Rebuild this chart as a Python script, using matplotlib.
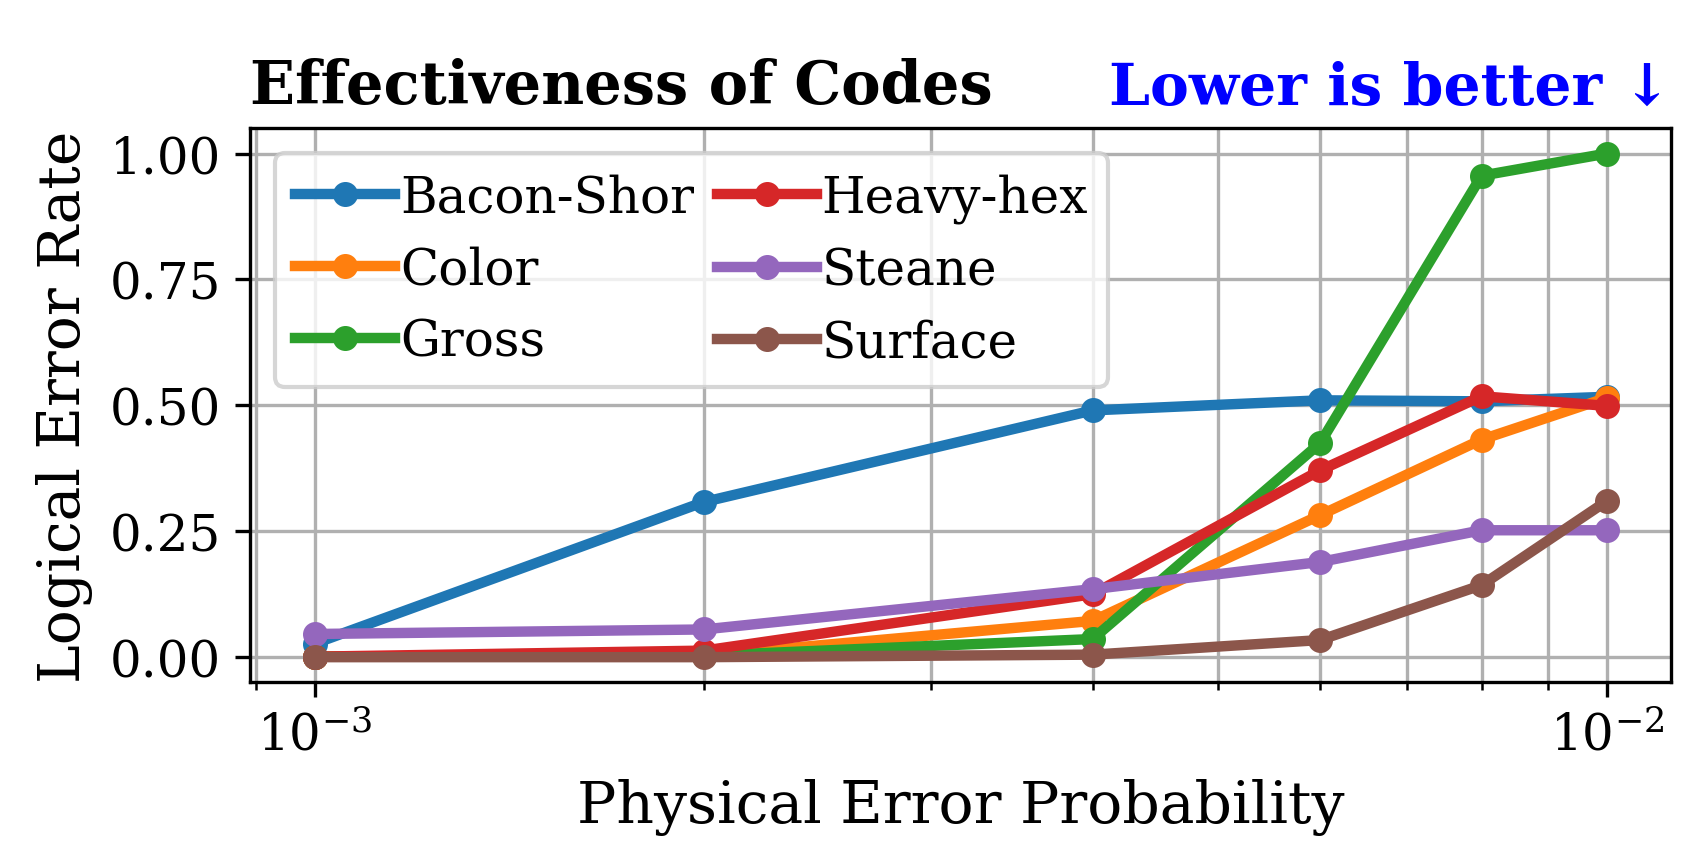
import matplotlib
matplotlib.use("Agg")
import matplotlib.pyplot as plt

plt.rcParams['font.family'] = 'DejaVu Serif'
plt.rcParams['mathtext.fontset'] = 'dejavuserif'

# physical error probabilities
p_phys = [0.001, 0.002, 0.004, 0.006, 0.008, 0.01]

# logical error rates
bacon_shor = [0.027, 0.308, 0.490, 0.510, 0.508, 0.517]
color_code = [0.001, 0.003, 0.072, 0.282, 0.432, 0.515]
gross = [0.001, 0.003, 0.036, 0.425, 0.956, 1.000]
heavy_hex = [0.001, 0.013, 0.125, 0.371, 0.518, 0.499]
steane = [0.046, 0.055, 0.135, 0.189, 0.252, 0.252]
surface = [0.0, 0.0, 0.005, 0.034, 0.143, 0.310]

codes = ['Bacon-Shor', 'Color', 'Gross', 'Heavy-hex', 'Steane', 'Surface']
series = [bacon_shor, color_code, gross, heavy_hex, steane, surface]

fig = plt.figure(figsize=(1690 / 300, 851 / 300), dpi=300)
ax = fig.add_axes([0.148, 0.197, 0.841, 0.651])

for name, vals in zip(codes, series):
    ax.plot(p_phys, vals, marker='o', linewidth=2.5, markersize=5, label=name)

ax.set_xscale('log')
ax.grid(True, which='both', color='#b0b0b0', linewidth=0.8)
ax.set_axisbelow(True)

ax.tick_params(labelsize=12)
ax.set_xlabel('Physical Error Probability', fontsize=14)
ax.set_ylabel('Logical Error Rate', fontsize=14)
ax.set_yticks([0.0, 0.25, 0.5, 0.75, 1.0])

ax.set_title('Effectiveness of Codes', loc='left', fontsize=14.2,
             fontweight='bold', pad=8)
ax.set_title('Lower is better \u2193', loc='right', fontsize=14,
             fontweight='bold', color='blue', pad=6)

ax.legend(loc='upper left', ncol=2, fontsize=12, handlelength=2.0,
          handletextpad=0.1, columnspacing=0.45, labelspacing=0.45)

fig.savefig('out.png', dpi=300)
